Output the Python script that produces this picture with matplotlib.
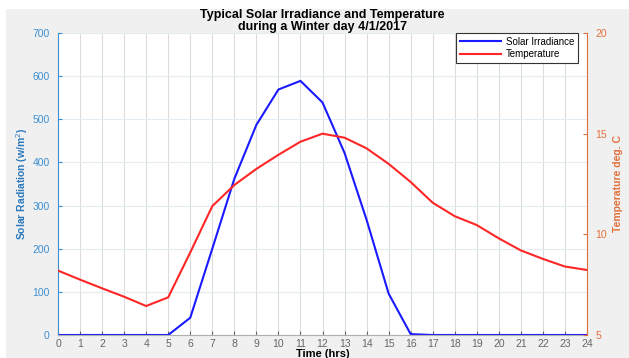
import numpy as np
import matplotlib.pyplot as plt
from matplotlib.patches import Rectangle

plt.rcParams['font.family'] = ['Liberation Sans', 'DejaVu Sans']

# hourly readings, 4/1/2017
hours = list(range(0, 25))
irradiance = [0, 0, 0, 0, 0, 0, 40, 200, 362, 487, 569, 589, 539, 422, 267,
              96, 2, 0, 0, 0, 0, 0, 0, 0, 0]
temperature = [8.2, 7.75, 7.32, 6.9, 6.44, 6.87, 9.1, 11.4, 12.45, 13.25, 13.95,
               14.6, 15.0, 14.8, 14.27, 13.5, 12.6, 11.57, 10.9, 10.46, 9.8,
               9.2, 8.78, 8.4, 8.23]

left_col = '#3d8fd1'
right_col = '#e2703c'
tick_grey = '#666666'

fig = plt.figure(figsize=(6.29, 3.58), dpi=100, facecolor='white')
fig.patches.append(Rectangle((6 / 629, 0), 1, 349 / 358, transform=fig.transFigure,
                             facecolor='#f0f0f0', edgecolor='none', zorder=-10))

ax = fig.add_axes([58 / 629, 23 / 358, 529 / 629, 302 / 358])
ax.set_facecolor('white')
l1, = ax.plot(hours, irradiance, color='#1a1aff', lw=1.5, label='Solar Irradiance')
ax.set_xlim(0, 24)
ax.set_ylim(0, 700)
ax.set_xticks(hours)
ax.set_yticks(np.arange(0, 701, 100))
ax.grid(True, axis='x', color='#dcdcdc', lw=0.8)
ax.grid(True, axis='y', color='#e3ebf3', lw=0.8)
ax.set_axisbelow(True)
ax.tick_params(axis='x', direction='in', length=3, labelsize=7.5, colors=tick_grey, pad=3)
ax.tick_params(axis='y', direction='in', length=3, labelsize=7.5, colors=left_col, pad=6)
ax.spines['left'].set_color(left_col)
ax.spines['bottom'].set_color('#b0b0b0')
ax.spines['top'].set_visible(False)
ax.spines['right'].set_visible(False)
ax.set_ylabel('Solar Radiation (w/m$^2$)', color='#2a78bd', fontsize=7.5,
              fontweight='bold', labelpad=2)
ax.set_xlabel('Time (hrs)', fontsize=8, fontweight='bold', labelpad=0)

ax2 = ax.twinx()
l2, = ax2.plot(hours, temperature, color='#ff2626', lw=1.5, label='Temperature')
ax2.set_ylim(5, 20)
ax2.set_yticks([5, 10, 15, 20])
ax2.tick_params(axis='y', direction='in', length=3, labelsize=7.5, colors=right_col, pad=6)
ax2.spines['right'].set_color(right_col)
for s in ['top', 'left', 'bottom']:
    ax2.spines[s].set_visible(False)
ax2.set_ylabel('Temperature deg. C', color=right_col, fontsize=7.5,
               fontweight='bold', labelpad=4)

leg = ax2.legend(handles=[l1, l2], loc='upper right', fontsize=7, frameon=True,
                 fancybox=False, framealpha=1, borderpad=0.4, labelspacing=0.25,
                 handlelength=4.2, handletextpad=0.5, borderaxespad=0,
                 bbox_to_anchor=(0.983, 1.0))
leg.get_frame().set_edgecolor('#333333')
leg.get_frame().set_linewidth(0.8)

ax.set_title('Typical Solar Irradiance and Temperature\nduring a Winter day 4/1/2017',
             fontsize=9, fontweight='bold', linespacing=1.05, pad=1)

fig.savefig('out.png', dpi=100)
